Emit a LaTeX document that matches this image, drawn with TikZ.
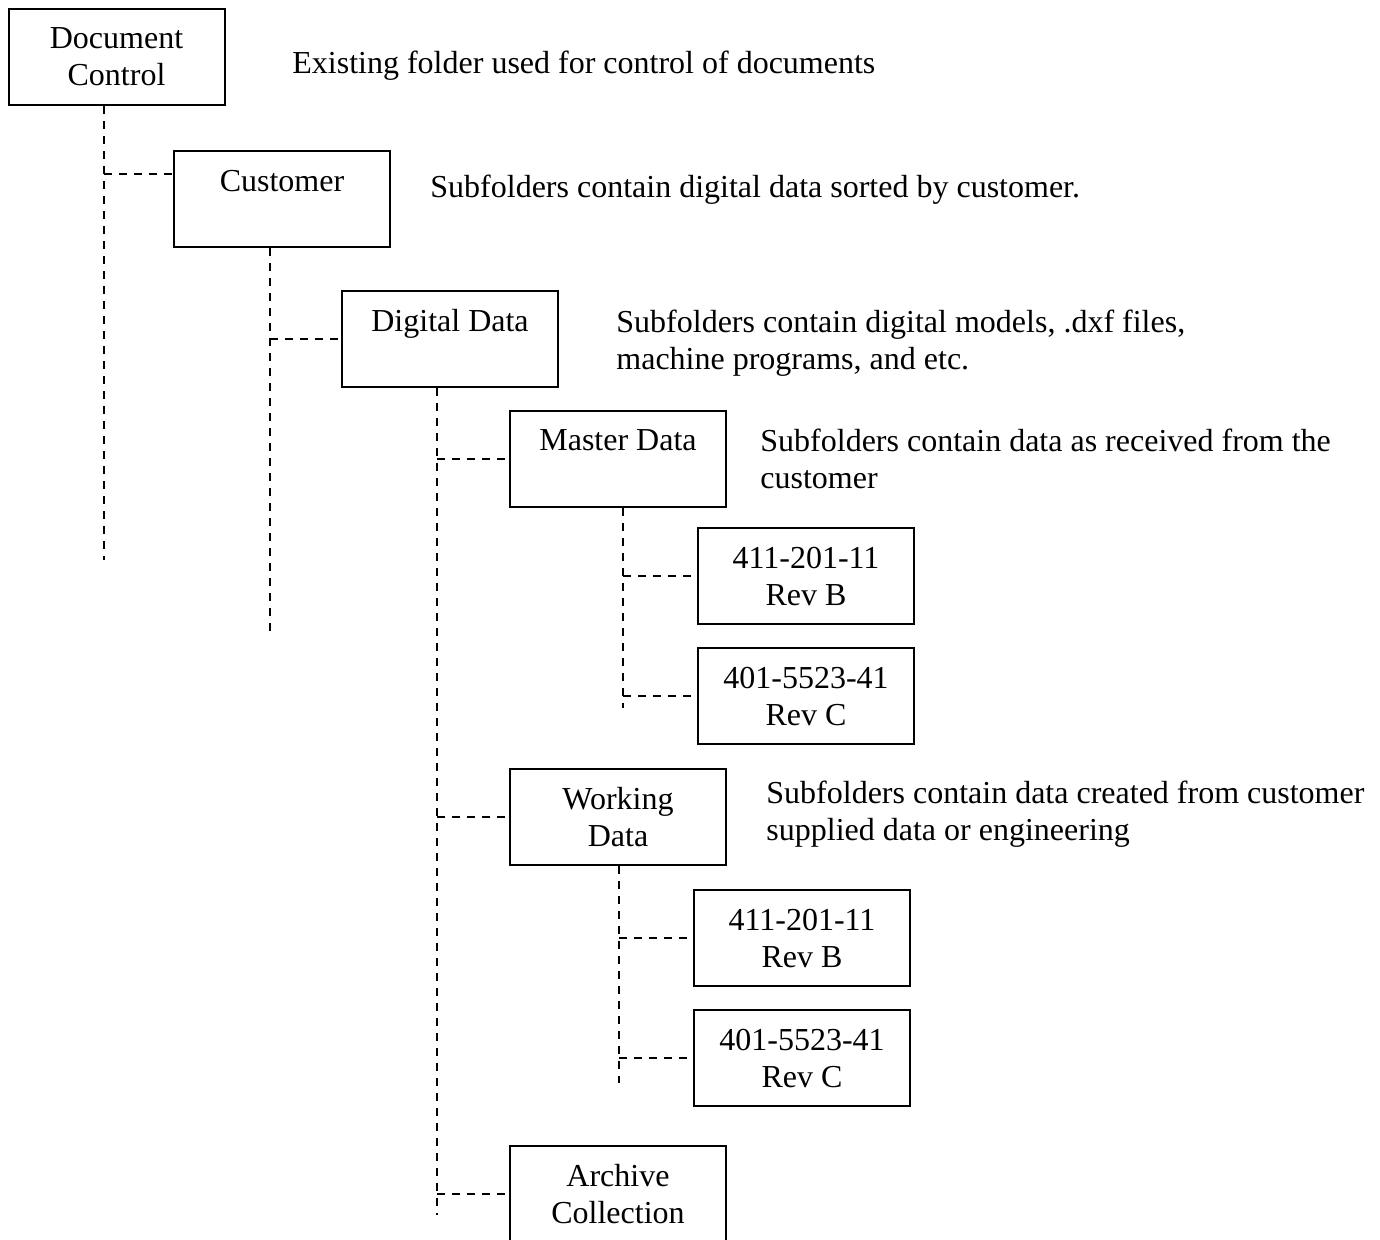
\documentclass[tikz,border=0pt]{standalone}
\usepackage{fontspec}
\setmainfont{Liberation Serif}
\begin{document}
\begin{tikzpicture}[x=0.5pt,y=-0.5pt,
  txt/.style={font=\fontsize{16}{18.5}\selectfont},
  folder/.style={txt,draw,line width=1pt,minimum width=108pt,minimum height=48pt,inner sep=0pt,align=center},
  desc/.style={txt,anchor=north west,align=left,inner sep=0pt},
  conn/.style={dash pattern=on 4pt off 3.5pt,line width=0.75pt}]
\useasboundingbox (0,0) rectangle (1380,1239);
\clip (0,0) rectangle (1380,1239);
% folders
\node[folder] (dc) at (116.5,57) {Document\\Control};
\node[folder] (cu) at (282,199) {Customer\\\mbox{}};
\node[folder] (dd) at (450,339) {Digital Data\\\mbox{}};
\node[folder] (md) at (618,459) {Master Data\\\mbox{}};
\node[folder] (m1) at (806,576) {411-201-11\\Rev B};
\node[folder] (m2) at (806,696) {401-5523-41\\Rev C};
\node[folder] (wd) at (618,817) {Working\\Data};
\node[folder] (w1) at (802,938) {411-201-11\\Rev B};
\node[folder] (w2) at (802,1058) {401-5523-41\\Rev C};
\node[folder] (ar) at (618,1194) {Archive\\Collection};
% descriptions
\node[desc] (ex) at (292,51) {Existing folder used for control of documents};
\node[desc] (cud) at (430,175) {Subfolders contain digital data sorted by customer.};
\node[desc] (ddd) at (616,310) {Subfolders contain digital models, .dxf files,\\machine programs, and etc.};
\begin{scope}
  \clip (700,400) rectangle (1380,489);
  \node[desc] (mdd) at (760,429) {Subfolders contain data as received from the\\customer};
\end{scope}
\node[desc] (wdd) at (766,781) {Subfolders contain data created from customer\\supplied data or engineering};
% connectors
\coordinate (v0) at (104,560);
\coordinate (b0) at (104,174);
\draw[conn] (dc.south -| v0) -- (v0);
\draw[conn] (b0) -- (cu.west |- b0);
\coordinate (v1) at (270,632);
\draw[conn] (cu.south -| v1) -- (v1);
\draw[conn] (v1 |- dd.west) -- (dd.west);
\coordinate (v2) at (437,1215);
\draw[conn] (dd.south -| v2) -- (v2);
\draw[conn] (v2 |- md.west) -- (md.west);
\draw[conn] (v2 |- wd.west) -- (wd.west);
\draw[conn] (v2 |- ar.west) -- (ar.west);
\coordinate (v3) at (623,708);
\draw[conn] (md.south -| v3) -- (v3);
\draw[conn] (v3 |- m1.west) -- (m1.west);
\draw[conn] (v3 |- m2.west) -- (m2.west);
\coordinate (v4) at (619,1083);
\draw[conn] (wd.south -| v4) -- (v4);
\draw[conn] (v4 |- w1.west) -- (w1.west);
\draw[conn] (v4 |- w2.west) -- (w2.west);
\end{tikzpicture}
\end{document}
